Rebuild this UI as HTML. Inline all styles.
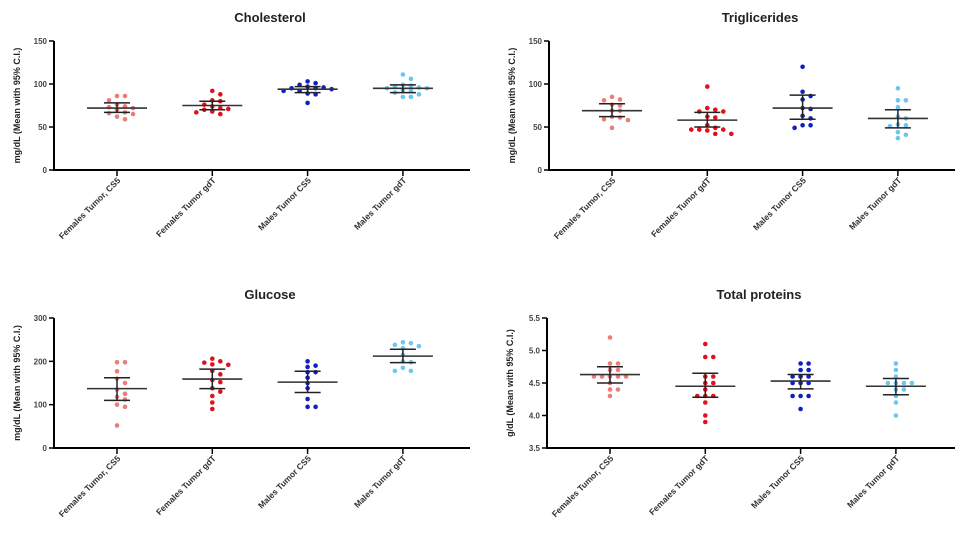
<!DOCTYPE html>
<html><head><meta charset="utf-8"><style>
body{margin:0;background:#fff;}
svg{display:block;font-family:"Liberation Sans",Arial,sans-serif;}
</style></head><body>
<svg id="chart" width="971" height="560" viewBox="0 0 971 560"></svg>
<script>
const categories = ["Females Tumor, CS5","Females Tumor gdT","Males Tumor CS5","Males Tumor gdT"];
const colors = ["#ef7a7a","#e0101c","#1020c0","#6cc6ee"];

const cholValues = [
 [86,86,81,76,74,73,72,70,67,66,65,62,59],
 [92,88,81,80,76,74,72,71,70,68,67,65],
 [103,101,99,97,96,95,95,94,92,92,89,88,78],
 [111,106,99,98,97,96,95,95,93,92,90,88,85,85]];
const cholMean = [72,75,94,95];
const cholLo = [67,70,90,90];
const cholHi = [78,80,97,99];

const trigValues = [
 [85,82,81,76,75,69,69,62,61,59,58,49],
 [97,72,70,68,68,62,61,52,49,47,47,47,46,42,42],
 [120,91,86,82,72,71,63,60,52,52,49],
 [95,81,81,73,62,60,53,52,51,44,41,37]];
const trigMean = [69,58,72,60];
const trigLo = [62,50,59,49];
const trigHi = [77,67,87,70];

const gluValues = [
 [198,198,177,160,150,135,125,118,112,100,95,52],
 [206,200,197,193,192,178,170,157,152,138,130,120,105,90],
 [200,190,187,175,175,162,150,138,113,95,95],
 [244,242,238,235,230,215,200,198,185,178,178]];
const gluMean = [137,159,152,212];
const gluLo = [110,137,128,197];
const gluHi = [162,182,177,228];

const protValues = [
 [5.2,4.8,4.8,4.7,4.7,4.6,4.6,4.6,4.6,4.6,4.5,4.4,4.4,4.3],
 [5.1,4.9,4.9,4.6,4.6,4.5,4.5,4.4,4.3,4.3,4.3,4.2,4.0,3.9],
 [4.8,4.8,4.7,4.7,4.6,4.6,4.6,4.5,4.5,4.5,4.3,4.3,4.3,4.1],
 [4.8,4.7,4.6,4.5,4.5,4.5,4.5,4.4,4.4,4.3,4.2,4.0]];
const protMean = [4.63,4.45,4.53,4.45];
const protLo = [4.50,4.28,4.41,4.32];
const protHi = [4.75,4.65,4.63,4.57];

const cholTicks = [0,50,100,150];
const trigTicks = [0,50,100,150];
const gluTicks = [0,100,200,300];
const protTicks = [3.5,4.0,4.5,5.0,5.5];
const protTickLabels = ["3.5","4.0","4.5","5.0","5.5"];

const NS = "http://www.w3.org/2000/svg";
const svg = document.getElementById("chart");
function mk(tag, attrs, parent){
  const e = document.createElementNS(NS, tag);
  for (const k in attrs) e.setAttribute(k, attrs[k]);
  (parent||svg).appendChild(e);
  return e;
}

function panel(cfg){
  const g = mk("g",{});
  
  
  const yScale = v => cfg.bottom - (v - cfg.min)/(cfg.max - cfg.min)*(cfg.bottom - cfg.top);
  const xScale = i => cfg.x0 + 63 + i*95.3;
  const t = mk("text",{x:(cfg.x0+cfg.x1)/2+8, y:cfg.top-19, "text-anchor":"middle","font-size":"13","font-weight":"bold",fill:"#222"}, g);
  t.textContent = cfg.title;
  
  
  const yl = mk("text",{transform:`translate(${cfg.x0-34},${(cfg.top+cfg.bottom)/2}) rotate(-90)`,"text-anchor":"middle","font-size":"9","font-weight":"bold",fill:"#222"}, g);
  yl.textContent = cfg.ylabel;
  
  
  const ya = mk("line",{x1:cfg.x0,y1:cfg.top,x2:cfg.x0,y2:cfg.bottom+1,stroke:"#000","stroke-width":"2"}, g);
  
  
  const xa = mk("line",{x1:cfg.x0-1,y1:cfg.bottom,x2:cfg.x1,y2:cfg.bottom,stroke:"#000","stroke-width":"2"}, g);
  
  
  cfg.ticks.forEach((v,i)=>{
    const y = yScale(v);
    mk("line",{x1:cfg.x0-5,y1:y,x2:cfg.x0,y2:y,stroke:"#000","stroke-width":"1.5"}, g);
    const tl = mk("text",{x:cfg.x0-7,y:y+3,"text-anchor":"end","font-size":"8","font-weight":"bold",fill:"#444"}, g);
    tl.textContent = cfg.tickLabels ? cfg.tickLabels[i] : String(v);
    
    
  });
  categories.forEach((c,i)=>{
    const x = xScale(i);
    mk("line",{x1:x,y1:cfg.bottom,x2:x,y2:cfg.bottom+6,stroke:"#000","stroke-width":"1.5"}, g);
    const xl = mk("text",{transform:`translate(${x+4},${cfg.bottom+11}) rotate(-45)`,"text-anchor":"end","font-size":"8.5","font-weight":"bold",fill:"#333"}, g);
    xl.textContent = c;
    
    
    const placed = [];
    cfg.values[i].forEach(v=>{
      const y = yScale(v);
      let off = 0;
      for (let k=0;k<40;k++){
        off = (k===0)?0:((k%2)?1:-1)*Math.ceil(k/2)*8;
        if (!placed.some(p=>Math.abs(p[0]-off)<7 && Math.abs(p[1]-y)<5)) break;
      }
      placed.push([off,y]);
      const pt = mk("circle",{cx:x+off,cy:y,r:2.3,fill:colors[i]}, g);
      
      
    });
    const ym = yScale(cfg.mean[i]), ylo = yScale(cfg.lo[i]), yhi = yScale(cfg.hi[i]);
    const ml = mk("line",{x1:x-30,y1:ym,x2:x+30,y2:ym,stroke:"#333","stroke-width":"1.6"}, g);
    
    
    const ci = mk("path",{d:`M${x},${ylo}V${yhi}M${x-13},${ylo}H${x+13}M${x-13},${yhi}H${x+13}`,stroke:"#222","stroke-width":"1.5",fill:"none"}, g);
    
    
  });
}

panel({name:"cholesterol-panel",title:"Cholesterol",ylabel:"mg/dL (Mean with 95% C.I.)",x0:54,x1:470,top:41,bottom:170,min:0,max:150,ticks:cholTicks,values:cholValues,mean:cholMean,lo:cholLo,hi:cholHi});
panel({name:"triglycerides-panel",title:"Triglicerides",ylabel:"mg/dL (Mean with 95% C.I.)",x0:549,x1:955,top:41,bottom:170,min:0,max:150,ticks:trigTicks,values:trigValues,mean:trigMean,lo:trigLo,hi:trigHi});
panel({name:"glucose-panel",title:"Glucose",ylabel:"mg/dL (Mean with 95% C.I.)",x0:54,x1:470,top:318,bottom:448,min:0,max:300,ticks:gluTicks,values:gluValues,mean:gluMean,lo:gluLo,hi:gluHi});
panel({name:"total-proteins-panel",title:"Total proteins",ylabel:"g/dL (Mean with 95% C.I.)",x0:547,x1:955,top:318,bottom:448,min:3.5,max:5.5,ticks:protTicks,tickLabels:protTickLabels,values:protValues,mean:protMean,lo:protLo,hi:protHi});
</script>
</body></html>
